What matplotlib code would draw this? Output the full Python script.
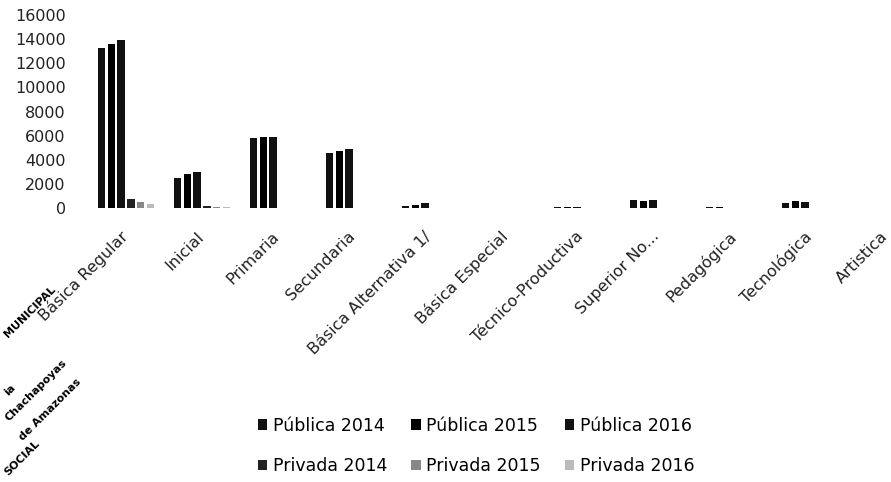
import matplotlib

matplotlib.use("Agg")
import matplotlib.pyplot as plt
import numpy as np

categories = [
    "Básica Regular", "Inicial", "Primaria", "Secundaria",
    "Básica Alternativa 1/", "Básica Especial", "Técnico-Productiva",
    "Superior No...", "Pedagógica", "Tecnológica", "Artistica",
]
series_names = [
    "Pública 2014", "Pública 2015", "Pública 2016",
    "Privada 2014", "Privada 2015", "Privada 2016",
]
publica_2014 = [13300, 2500, 5800, 4550, 200, 30, 80, 650, 60, 450, 0]
publica_2015 = [13600, 2800, 5900, 4750, 250, 30, 80, 600, 60, 550, 0]
publica_2016 = [13900, 2950, 5900, 4900, 400, 30, 80, 700, 0, 500, 0]
privada_2014 = [750, 200, 0, 0, 0, 0, 0, 0, 0, 0, 0]
privada_2015 = [500, 100, 0, 0, 0, 0, 0, 0, 0, 0, 0]
privada_2016 = [350, 60, 0, 0, 0, 0, 0, 0, 0, 0, 0]
y_ticks = [0, 2000, 4000, 6000, 8000, 10000, 12000, 14000, 16000]

series = [publica_2014, publica_2015, publica_2016,
          privada_2014, privada_2015, privada_2016]
colors = ["#111111", "#000000", "#111111", "#222222", "#888888", "#bbbbbb"]

plt.rcParams["font.family"] = ["DejaVu Sans"]

fig = plt.figure(figsize=(8.91, 4.82), dpi=100)
# zero line at y=208px, 16000 at y=15px; category pitch 76px
ax = fig.add_axes([88 / 891, 1 - 208 / 482, 803 / 891, 193 / 482])

x = np.arange(len(categories))
step = 0.13
width = 0.095
handles = []
for k, (vals, name, col) in enumerate(zip(series, series_names, colors)):
    h = ax.bar(x + (k - 2.5) * step, vals, width=width, color=col, label=name)
    handles.append(h)

ax.set_xlim(-0.5, -0.5 + 803 / 76)
ax.set_ylim(0, 16000)
ax.set_yticks(y_ticks)
ax.set_yticklabels([str(v) for v in y_ticks], fontsize=11.5, color="#222222")
ax.set_xticks(x - 0.08)
ax.set_xticklabels(categories, rotation=45, ha="right",
                   rotation_mode="anchor", fontsize=11.5, color="#222222")
ax.tick_params(axis="y", length=0, pad=16)
ax.tick_params(axis="x", length=0, pad=15)
for s in ax.spines.values():
    s.set_visible(False)

# legend rows: públicas on top, privadas below
order = [0, 3, 1, 4, 2, 5]
fig.legend([handles[i] for i in order], [series_names[i] for i in order],
           ncol=3, loc="center", bbox_to_anchor=(476 / 891, 1 - 446 / 482),
           frameon=False, fontsize=12.5, handlelength=0.55, handleheight=0.55,
           handletextpad=0.3, columnspacing=1.4, labelspacing=1.3)

# scanned stamp in the lower-left corner
stamp = [
    ("MUNICIPAL", 30, 312, 8),
    ("ia", 10, 390, 8),
    ("Chachapoyas", 36, 390, 8),
    ("de Amazonas", 50, 410, 8),
    ("SOCIAL", 22, 458, 8),
]
for txt, px, py, fs in stamp:
    fig.text(px / 891, 1 - py / 482, txt, rotation=45, fontsize=fs,
             fontweight="heavy", ha="center", va="center", color="black")

fig.savefig("out.png", dpi=100)
plt.close(fig)
